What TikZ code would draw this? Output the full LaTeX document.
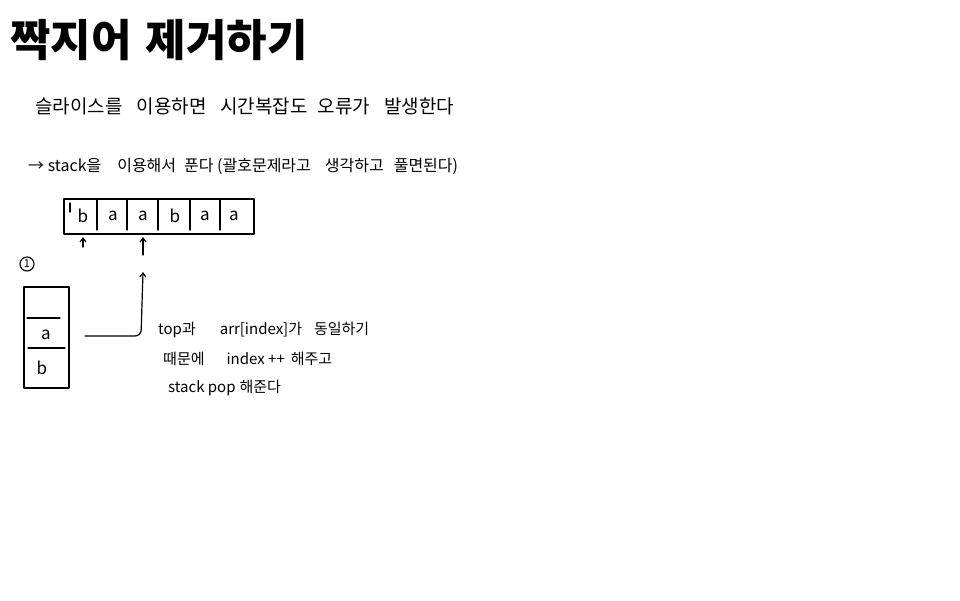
\documentclass[tikz,border=0pt]{standalone}
\usepackage{fontspec}
\newfontfamily\kr{Noto Sans CJK KR}
\usetikzlibrary{arrows.meta}
\newcommand{\gap}[1]{\hspace{#1pt}}
\begin{document}
\begin{tikzpicture}[x=1pt,y=-1pt,
  ink/.style={draw=black,line width=1.2pt,line cap=round,line join=round},
  txt/.style={inner sep=0pt,anchor=west,font=\kr},
  cell/.style={inner sep=0pt,font=\kr\fontsize{17}{17}\selectfont},
  arr/.style={ink,-{Straight Barb[length=4pt,width=6pt]}}]
\useasboundingbox[fill=white] (0,0) rectangle (960,600);
\node[txt,font=\kr\bfseries\fontsize{44}{44}\selectfont] (title) at (10,40) {짝지어\gap{14}제거하기};
\node[txt,font=\kr\fontsize{19}{19}\selectfont] (l1) at (35,106) {슬라이스를\gap{14}이용하면\gap{14}시간복잡도\gap{10}오류가\gap{14}발생한다};
\node[txt,font=\kr\fontsize{16}{16}\selectfont] (l2) at (28,166) {→ stack을\gap{16}이용해서\gap{8}푼다 (괄호문제라고\gap{14}생각하고\gap{10}풀면된다)};
% array
\draw[ink] (64,199) rectangle (254,234);
\draw[ink] (70,203) -- (70,212);
\foreach \x in {97,127,158,190,220} \draw[ink] (\x,200) -- (\x,230);
\node[cell] (c1) at (83,216) {b};
\node[cell] (c2) at (113,216) {a};
\node[cell] (c3) at (143,216) {a};
\node[cell] (c4) at (175,216) {b};
\node[cell] (c5) at (205,216) {a};
\node[cell] (c6) at (234,216) {a};
\coordinate (p1) at (83,247);
\coordinate (p1t) at (83,237);
\coordinate (p2) at (143,255);
\coordinate (p2t) at (143,237);
\draw[arr] (p1) -- (p1t);
\draw[arr] (p2) -- (p2t);
% stack
\node[draw,circle,line width=1.1pt,inner sep=0pt,minimum size=14pt,font=\kr\fontsize{11}{11}\selectfont] (one) at (27,264) {1};
\node[ink,minimum width=45pt,minimum height=101pt,inner sep=0pt] (stack) at (46.5,337.5) {};
\draw[ink] (27,318) -- (60,318);
\draw[ink] (28,348) -- (65,348);
\node[cell] (sa) at (46,335) {a};
\node[cell] (sb) at (42,368) {b};
\coordinate (s0) at (85,336);
\coordinate (tgt) at (143,272);
\draw[arr,rounded corners=6pt] (s0) -- (141,336) -- (tgt);
% explanation
\node[txt,font=\kr\fontsize{15}{15}\selectfont] (e1) at (158,330) {top과\gap{24}arr[index]가\gap{12}동일하기};
\node[txt,font=\kr\fontsize{15}{15}\selectfont] (e2) at (163,359) {때문에\gap{22}index ++\gap{6}해주고};
\node[txt,font=\kr\fontsize{15}{15}\selectfont] (e3) at (168,388) {stack pop\gap{4}해준다};
\end{tikzpicture}
\end{document}
